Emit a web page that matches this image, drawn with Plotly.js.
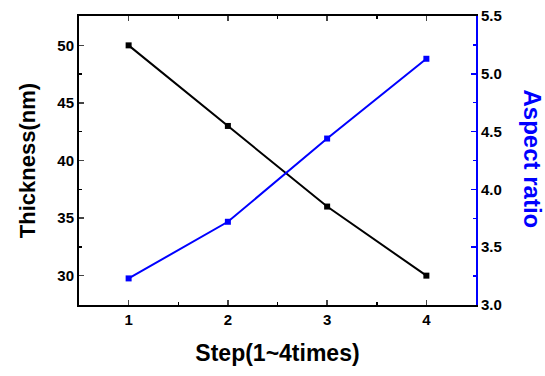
<!DOCTYPE html>
<html>
<head>
<meta charset="utf-8">
<script src="https://cdn.plot.ly/plotly-3.0.1.min.js"></script>
<style>html,body{margin:0;padding:0;background:#fff;}#chart{width:545px;height:376px;}</style>
</head>
<body>
<div id="chart"></div>
<script>
const steps = [1, 2, 3, 4];
const thickness = [50, 43, 36, 30];
const aspectRatio = [3.23, 3.72, 4.44, 5.13];
const xTitle = 'Step(1~4times)';
const yTitle = 'Thickness(nm)';
const y2Title = 'Aspect ratio';

const F = 'Liberation Sans, Arial, sans-serif';
const traces = [
  {x: steps, y: thickness, type: 'scatter', mode: 'lines+markers',
   line: {color: '#000', width: 2}, marker: {symbol: 'square', size: 6, color: '#000'}, yaxis: 'y'},
  {x: steps, y: aspectRatio, type: 'scatter', mode: 'lines+markers',
   line: {color: '#0000ff', width: 2}, marker: {symbol: 'square', size: 6, color: '#0000ff'}, yaxis: 'y2'}
];
const layout = {
  width: 545, height: 376,
  margin: {l: 79, r: 69, t: 16, b: 71},
  showlegend: false,
  paper_bgcolor: '#fff', plot_bgcolor: '#fff',
  font: {family: F, color: '#000'},
  xaxis: {
    range: [0.5, 4.5], tickvals: steps, ticks: 'inside', ticklen: 5, tickwidth: 1.5,
    showline: true, linecolor: '#000', linewidth: 2, mirror: 'ticks', showgrid: false, zeroline: false,
    tickfont: {family: F, size: 15, color: '#000', weight: 'bold'},
    minor: {dtick: 0.5, ticks: 'inside', ticklen: 3, tickwidth: 1.5, tickcolor: '#000', showgrid: false},
    title: {text: '<b>' + xTitle + '</b>', font: {family: F, size: 23, color: '#000'}, standoff: 18}
  },
  yaxis: {
    range: [27.45, 52.55], tickvals: [30, 35, 40, 45, 50], ticks: 'inside', ticklen: 5, tickwidth: 1.5,
    showline: true, linecolor: '#000', linewidth: 2, showgrid: false, zeroline: false,
    tickfont: {family: F, size: 15, color: '#000', weight: 'bold'},
    minor: {dtick: 2.5, ticks: 'inside', ticklen: 3, tickwidth: 1.5, tickcolor: '#000', showgrid: false},
    title: {text: '<b>' + yTitle + '</b>', font: {family: F, size: 22, color: '#000'}, standoff: 16}
  },
  yaxis2: {
    overlaying: 'y', side: 'right', range: [3.0, 5.5], tickvals: [3.0, 3.5, 4.0, 4.5, 5.0, 5.5],
    ticktext: ['3.0', '3.5', '4.0', '4.5', '5.0', '5.5'],
    ticks: 'inside', ticklen: 5, tickwidth: 1.5, tickcolor: '#0000ff',
    showline: true, linecolor: '#0000ff', linewidth: 2, showgrid: false, zeroline: false,
    tickfont: {family: F, size: 15, color: '#000', weight: 'bold'},
    minor: {dtick: 0.25, ticks: 'inside', ticklen: 3, tickwidth: 1.5, tickcolor: '#0000ff', showgrid: false}
  },
  annotations: [{
    text: '<b>' + y2Title + '</b>', xref: 'paper', yref: 'paper', x: 1, xshift: 56, y: 0.5, yshift: 2,
    xanchor: 'center', yanchor: 'middle', textangle: 90, showarrow: false,
    font: {family: F, size: 24, color: '#0000ff'}
  }]
};
Plotly.newPlot('chart', traces, layout, {displayModeBar: false, staticPlot: true});
</script>
</body>
</html>
